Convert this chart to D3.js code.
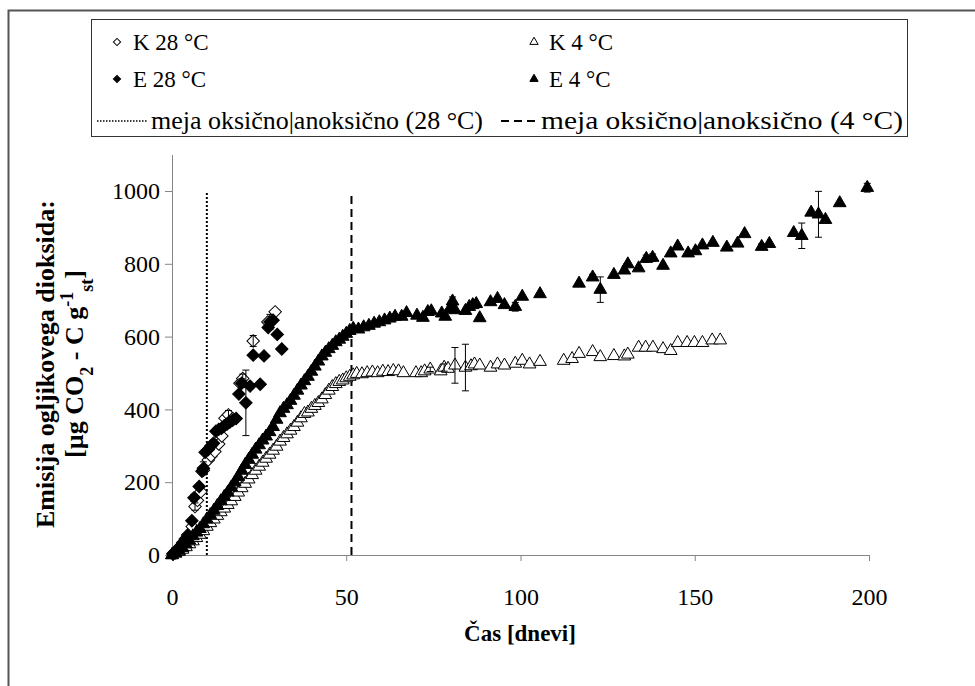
<!DOCTYPE html>
<html>
<head>
<meta charset="utf-8">
<script src="https://cdn.jsdelivr.net/npm/d3@7"></script>
<style>
  body { margin: 0; background: #fff; }
  svg { display: block; }
  .axis path, .axis line { stroke: #868686; stroke-width: 1; }
</style>
</head>
<body>
<svg id="chart" width="975" height="686"></svg>
<script>
// K 28 °C (open diamonds)
const k28Days = [0.3, 1, 1.7, 2.4, 3.1, 3.8, 4.5, 5.2, 5.8, 6.6, 7.3, 8.3, 9.0, 10.4, 11.2, 12.3, 13.4, 14.3, 15.2, 16.2, 17.4, 19.5, 20.3, 23.3, 27.5, 29.6];
const k28Values = [2, 6, 11, 17, 24, 32, 40, 55, 78, 133, 150, 174, 233, 261, 272, 284, 305, 327, 376, 385, 375, 472, 485, 588, 640, 668];
const k28ErrDays = [6.6, 16.2, 20.3, 23.3];
const k28ErrSizes = [10, 12, 12, 15];

// E 28 °C (filled diamonds)
const e28Days = [0.3, 1, 1.7, 2.4, 3.1, 3.8, 4.5, 5.7, 6.3, 7.8, 8.6, 9.0, 9.5, 10.4, 11.2, 11.9, 12.6, 13.4, 14.2, 15.0, 15.8, 16.6, 17.4, 18.4, 19.2, 20.0, 21.2, 22.4, 23.3, 25.3, 26.4, 27.6, 28.1, 29.0, 30.2, 31.5];
const e28Values = [4, 10, 17, 25, 34, 44, 55, 94, 157, 188, 230, 238, 282, 290, 300, 307, 340, 345, 348, 355, 360, 365, 370, 375, 442, 472, 418, 464, 549, 469, 547, 625, 640, 645, 606, 566];
const e28ErrDays = [6.3, 9.0, 20.0, 21.2, 28.1];
const e28ErrSizes = [10, 18, 12, 90, 21];

// K 4 °C (open triangles)
const k4Days = [0, 1, 2, 3, 4, 5, 6, 7, 8, 9, 10, 11, 12, 13, 14, 15, 16, 17, 18, 19, 20, 21, 22, 23, 24, 25, 26, 27, 28, 29, 30, 31, 32, 33, 34, 35, 36, 37, 38, 39, 40, 41, 42, 43, 44, 45, 46, 47, 48, 49, 50, 51, 52,
  53, 54.5, 56, 57.5, 59, 60.5, 62, 63.5, 65, 66.4, 70, 71.5, 72.5, 74.1, 77.1, 78.1, 79.2, 81.2, 84.2, 85.8, 86.8, 88.3, 91.4, 93.4, 95.4, 98.5, 100.5, 102.6, 105.6, 112.4,
  114.8, 116.8, 120.7, 122.9, 126.8, 129.8, 130.8, 133.9, 135.9, 138, 140.9, 143.1, 145.1, 147.8, 149.9, 152.2, 155, 157.3];
const k4Values = [0, 4, 9, 15, 22, 30, 38, 47, 56, 66, 78, 88, 98, 108, 118, 128, 138, 148, 160, 172, 184, 196, 208, 220, 232, 243, 254, 265, 276, 287, 298, 312, 322, 332, 342, 352, 364, 376, 388, 392, 402, 410, 418, 428, 440, 452, 462, 470, 476, 480, 486, 490, 494,
  498, 497, 500, 502, 500, 504, 503, 506, 505, 500, 500, 500, 505, 510, 505, 515, 512, 521, 515, 519, 524, 521, 515, 524, 521, 526, 534, 524, 531, 534,
  539, 553, 558, 544, 547, 546, 551, 570, 570, 570, 566, 561, 583, 583, 583, 583, 590, 590];
const k4ErrDays = [74.1, 78.1, 81.2, 84.2];
const k4ErrSizes = [6, 10, 49, 64];

// E 4 °C (filled triangles)
const e4Days = [0, 1, 2, 3, 4, 5, 6, 7, 8, 9, 10, 11, 12, 13, 14, 15, 16, 17, 18, 19, 20, 21, 22, 23, 24, 25, 26, 27, 28, 29, 30, 31, 32, 33, 34, 35, 36, 37, 38, 39, 40, 41, 42, 43, 44, 45, 46, 47, 48, 49, 50, 51, 52,
  53.5, 55, 56.5, 58, 59.5, 61, 62.5, 64, 65.9, 67.3, 70.3, 72, 73.4, 74.4, 77.4, 78.4, 79.7, 80.5, 81.2, 84.2, 85.3, 86.3, 87.3, 88.3, 91.4, 93.4, 95.4, 98.5,
  100.5, 105.6, 116.8, 120.7, 122.9, 126.8, 129.8, 130.8, 133.9, 136.1, 137.9, 140.9, 143.1, 145.1, 148.1, 150.2, 152.2, 155.2, 159.2, 162.3,
  164.3, 169.2, 171.4, 178.4, 180.7, 183.4, 185.5, 187.5, 191.6, 199.5];
const e4Values = [0, 6, 12, 20, 30, 40, 52, 62, 72, 85, 98, 110, 122, 135, 148, 160, 172, 186, 200, 215, 232, 248, 262, 276, 290, 302, 315, 326, 338, 352, 372, 390, 402, 412, 424, 438, 452, 466, 478, 490, 504, 518, 532, 546, 556, 566, 575, 585, 592, 600, 608, 616, 622,
  620, 626, 630, 636, 640, 645, 650, 655, 655, 665, 658, 652, 668, 670, 664, 655, 676, 697, 673, 671, 682, 687, 690, 651, 695, 704, 687, 682,
  710, 717, 746, 763, 729, 770, 782, 799, 788, 814, 817, 795, 829, 848, 829, 835, 851, 858, 845, 856,
  882, 847, 855, 885, 877, 941, 936, 921, 967, 1009];
const e4ErrDays = [80.5, 98.5, 120.7, 122.9, 136.1, 137.9, 169.2, 180.7, 185.5, 187.5, 199.5];
const e4ErrSizes = [12, 12, 8, 35, 10, 10, 8, 35, 63, 5, 12];

// oxic|anoxic boundaries (days) and their top value
const boundaryDays = [10, 51.5];
const boundaryTop = 1000;

const xTicks = [0, 50, 100, 150, 200];
const yTicks = [0, 200, 400, 600, 800, 1000];
const legendLabels = ['K 28 °C', 'K 4 °C', 'E 28 °C', 'E 4 °C', 'meja oksično|anoksično (28 °C)', 'meja oksično|anoksično (4 °C)'];

const FONT = "'Liberation Serif', 'Times New Roman', serif";
const svg = d3.select('#chart').attr('font-family', FONT);
const x = d3.scaleLinear().domain([0, 200]).range([172, 869]);
const y = d3.scaleLinear().domain([0, 1100]).range([555, 154.6]);

const diamond = size => d3.symbol(d3.symbolSquare, size)();
const triangle = size => d3.symbol(d3.symbolTriangle, size)();

const drawMarker = (g, shape, filled, big) => {
  const path = shape === 'diamond' ? diamond(big ? 78 : 26) : triangle(big ? 70 : 30);
  g.append('path')
    .attr('d', path)
    .attr('transform', shape === 'diamond' ? 'rotate(45)' : null)
    .attr('fill', filled ? '#000' : '#fff')
    .attr('stroke', '#000')
    .attr('stroke-width', 1);
};

// outer frame (cut off at the right and bottom)
svg.append('rect')
  .attr('x', 8.5).attr('y', 10.5)
  .attr('width', 1100).attr('height', 1000)
  .attr('fill', 'none').attr('stroke', '#555').attr('stroke-width', 2);

// axes
const styleAxis = (g) => {
  g.attr('font-family', FONT).attr('font-size', 24);
  g.selectAll('text').attr('fill', '#000');
};

svg.append('g')
  .attr('class', 'axis')
  .attr('transform', `translate(0, ${y(0)})`)
  .call(d3.axisBottom(x).tickValues(xTicks).tickFormat(d3.format('d'))
    .tickSize(6).tickSizeOuter(0).tickPadding(27))
  .call(styleAxis);

svg.append('g')
  .attr('class', 'axis')
  .attr('transform', `translate(${x(0)}, 0)`)
  .call(d3.axisLeft(y).tickValues(yTicks).tickFormat(d3.format('d'))
    .tickSize(7).tickSizeOuter(0).tickPadding(5))
  .call(styleAxis);

// boundary lines
svg.selectAll('.boundary')
  .data(boundaryDays)
  .enter()
  .append('line')
  .attr('x1', d => x(d)).attr('x2', d => x(d))
  .attr('y1', y(0)).attr('y2', y(boundaryTop))
  .attr('stroke', '#000')
  .attr('stroke-width', 2)
  .attr('stroke-dasharray', (d, i) => (i === 0 ? '2,2' : '8,5'));

const series = [
  { days: k28Days, values: k28Values, errDays: k28ErrDays, errSizes: k28ErrSizes, shape: 'diamond', filled: false },
  { days: k4Days, values: k4Values, errDays: k4ErrDays, errSizes: k4ErrSizes, shape: 'triangle', filled: false },
  { days: e28Days, values: e28Values, errDays: e28ErrDays, errSizes: e28ErrSizes, shape: 'diamond', filled: true },
  { days: e4Days, values: e4Values, errDays: e4ErrDays, errSizes: e4ErrSizes, shape: 'triangle', filled: true },
];

series.forEach((s) => {
  const points = s.days.map((day, i) => ({ day, value: s.values[i] }));
  const layer = svg.append('g');

  layer.selectAll('g')
    .data(points)
    .enter()
    .append('g')
    .attr('transform', d => `translate(${x(d.day)}, ${y(d.value)})`)
    .each(function () { drawMarker(d3.select(this), s.shape, s.filled, true); });

  const bars = s.errDays.map((day, i) => ({
    day,
    value: s.values[s.days.indexOf(day)],
    err: s.errSizes[i],
  }));
  const bar = layer.selectAll('.err')
    .data(bars)
    .enter()
    .append('g')
    .attr('stroke', '#000')
    .attr('stroke-width', 1);
  bar.append('line')
    .attr('x1', d => x(d.day)).attr('x2', d => x(d.day))
    .attr('y1', d => y(d.value - d.err)).attr('y2', d => y(d.value + d.err));
  [-1, 1].forEach((sign) => {
    bar.append('line')
      .attr('x1', d => x(d.day) - 3.5).attr('x2', d => x(d.day) + 3.5)
      .attr('y1', d => y(d.value + sign * d.err)).attr('y2', d => y(d.value + sign * d.err));
  });
});

// axis titles
svg.append('text')
  .attr('x', 520).attr('y', 641)
  .attr('text-anchor', 'middle')
  .attr('font-size', 23).attr('font-weight', 'bold')
  .text('Čas [dnevi]');

const yTitle = svg.append('g').attr('transform', 'translate(0, 364) rotate(-90)')
  .attr('font-size', 26).attr('font-weight', 'bold').attr('text-anchor', 'middle');
yTitle.append('text').attr('x', 0).attr('y', 54).text('Emisija ogljikovega dioksida:');
const unit = yTitle.append('text').attr('x', 0).attr('y', 83);
unit.append('tspan').text('[µg CO');
unit.append('tspan').attr('baseline-shift', 'sub').attr('font-size', 18).text('2');
unit.append('tspan').text(' - C g');
unit.append('tspan').attr('baseline-shift', 'super').attr('font-size', 18).text('-1');
unit.append('tspan').attr('baseline-shift', 'sub').attr('font-size', 18).text('st');
unit.append('tspan').text(']');

// legend
const legend = svg.append('g');
legend.append('rect')
  .attr('x', 91.5).attr('y', 19.5)
  .attr('width', 816).attr('height', 117)
  .attr('fill', '#fff').attr('stroke', '#333').attr('stroke-width', 1);

const legendCols = [117, 534];
const legendRows = [42, 79, 121];
const legendShapes = [['diamond', false], ['triangle', false], ['diamond', true], ['triangle', true]];

legendShapes.forEach(([shape, filled], i) => {
  const g = legend.append('g')
    .attr('transform', `translate(${legendCols[i % 2]}, ${legendRows[Math.floor(i / 2)]})`);
  drawMarker(g, shape, filled, false);
});

legend.append('line')
  .attr('x1', 97).attr('x2', 148).attr('y1', legendRows[2]).attr('y2', legendRows[2])
  .attr('stroke', '#000').attr('stroke-width', 1.5).attr('stroke-dasharray', '1.5,1.5');
legend.append('line')
  .attr('x1', 501).attr('x2', 538).attr('y1', legendRows[2]).attr('y2', legendRows[2])
  .attr('stroke', '#000').attr('stroke-width', 2).attr('stroke-dasharray', '8,5');

const legendTextX = [[133, 549], [133, 549], [151, 541]];
const rowThreeWidths = [332, 362];
legendLabels.forEach((label, i) => {
  const row = Math.floor(i / 2);
  const text = legend.append('text')
    .attr('x', legendTextX[row][i % 2])
    .attr('y', legendRows[row] + 8)
    .attr('font-size', row === 2 ? 26 : 23)
    .text(label);
  if (row === 2) {
    text.attr('textLength', rowThreeWidths[i % 2]).attr('lengthAdjust', 'spacingAndGlyphs');
  }
});
</script>
</body>
</html>
